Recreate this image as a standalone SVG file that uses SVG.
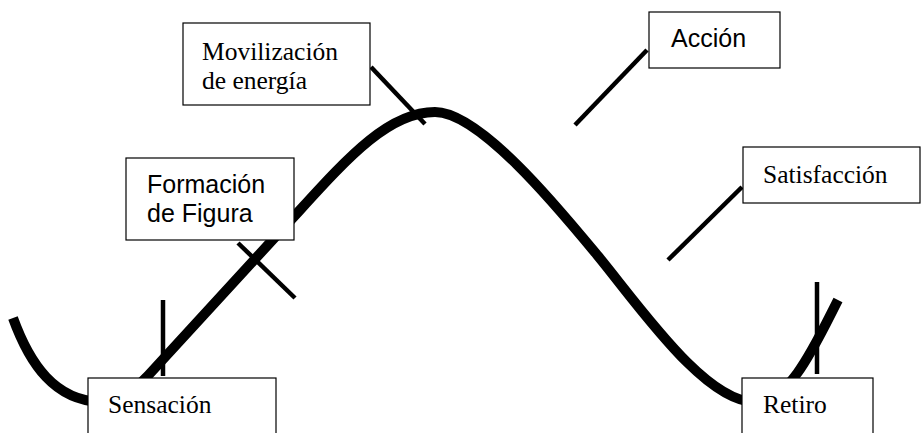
<svg xmlns="http://www.w3.org/2000/svg" width="921" height="433" viewBox="0 0 921 433">
<style>
.curve{fill:none;stroke:#000;stroke-width:10;stroke-linecap:butt;stroke-linejoin:round}
.tick{stroke:#000;stroke-width:4.5;stroke-linecap:butt}
.box{fill:#fff;stroke:#000;stroke-width:1.2}
.serif{font-family:"Liberation Serif","Times New Roman",serif;font-size:25.5px;fill:#000}
.sans{font-family:"Liberation Sans",Arial,sans-serif;font-size:25px;fill:#000}
</style>
<rect width="921" height="433" fill="#fff"/>
<g id="connectors">
<path class="curve" d="M13,318 C30,365 55,400 100,402 C122,402 140,385 155,368 L300,210 C350,155 390,112 435,112 C480,112 560,210 598,256 C640,307 705,402 755,402 C790,402 815,345 838,300"/>
<line class="tick" x1="371" y1="67" x2="425" y2="124"/>
<line class="tick" x1="238" y1="243" x2="295" y2="298"/>
<line class="tick" x1="647" y1="50" x2="575" y2="125"/>
<line class="tick" x1="742" y1="187" x2="668" y2="260"/>
<line class="tick" x1="163" y1="300" x2="163" y2="376"/>
<line class="tick" x1="817" y1="282" x2="817" y2="374"/>
</g>
<g id="sensacion">
<rect class="box" x="88" y="378" width="188" height="70"/>
<text class="serif" x="108" y="413">Sensación</text>
</g>
<g id="movilizacion">
<rect class="box" x="183" y="23" width="187" height="82"/>
<text class="serif" x="202" y="60">Movilización</text>
<text class="serif" x="202" y="89">de energía</text>
</g>
<g id="formacion">
<rect class="box" x="126" y="158" width="168" height="82"/>
<text class="sans" x="147" y="193">Formación</text>
<text class="sans" x="147" y="222">de Figura</text>
</g>
<g id="accion">
<rect class="box" x="649" y="12" width="131" height="56"/>
<text class="sans" x="671" y="47">Acción</text>
</g>
<g id="satisfaccion">
<rect class="box" x="743" y="147" width="177" height="56"/>
<text class="serif" x="763" y="183">Satisfacción</text>
</g>
<g id="retiro">
<rect class="box" x="742" y="378" width="131" height="70"/>
<text class="serif" x="763" y="413">Retiro</text>
</g>
</svg>
